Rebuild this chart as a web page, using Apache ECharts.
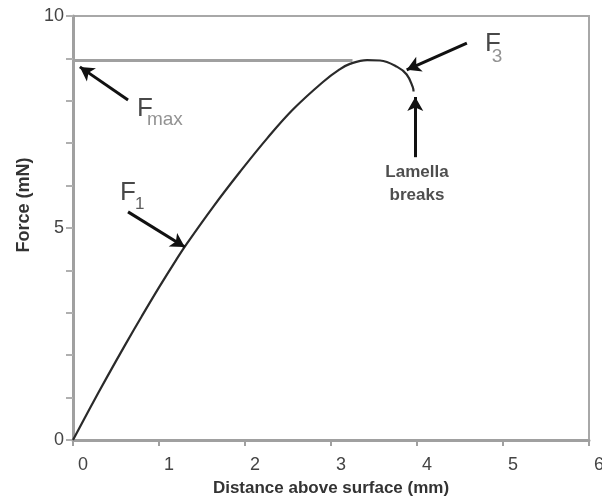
<!DOCTYPE html>
<html>
<head>
<meta charset="utf-8">
<script src="https://cdn.jsdelivr.net/npm/echarts@6/dist/echarts.min.js"></script>
<style>
  html, body { margin: 0; padding: 0; background: #fff; }
  #chart { width: 602px; height: 498px; }
</style>
</head>
<body>
<div id="chart"></div>
<script>
// ---- data ----
var distance = [0, 0.2, 0.4, 0.6, 0.8, 1.0, 1.2, 1.32, 1.63, 1.94, 2.26, 2.56, 2.91, 3.10, 3.22, 3.42, 3.57, 3.77, 3.88, 3.95, 3.96];
var force    = [0, 0.76, 1.50, 2.22, 2.92, 3.60, 4.25, 4.62, 5.50, 6.32, 7.12, 7.80, 8.45, 8.74, 8.87, 8.96, 8.95, 8.80, 8.62, 8.33, 8.22];
var xTicks = [0, 1, 2, 3, 4, 5, 6];
var yTickLabels = [0, 5, 10];
var fmaxValue = 8.95;
var fmaxLineEnd = 3.25;
var xTitle = 'Distance above surface (mm)';
var yTitle = 'Force (mN)';

// arrows: [fromX, fromY, toX, toY] in data units
var arrowFmax = [0.64, 8.02, 0.08, 8.80];
var arrowF1 = [0.64, 5.38, 1.30, 4.55];
var arrowF3 = [4.58, 9.36, 3.88, 8.73];
var arrowBreak = [3.98, 6.67, 3.98, 8.09];

// text annotations: [x, y, text, style]
var labelTexts = [
  [0.547, 5.84, 'F', 'big'],
  [0.72, 5.57, '1', 'sub'],
  [0.744, 7.81, 'F', 'big'],
  [0.86, 7.55, 'max', 'subGray'],
  [4.79, 9.35, 'F', 'big'],
  [4.87, 9.03, '3', 'subGray'],
  [4.0, 6.32, 'Lamella', 'bold'],
  [4.0, 5.78, 'breaks', 'bold']
];

var curve = distance.map(function (d, i) { return [d, force[i]]; });

var styles = {
  big: { fontSize: 26, color: '#1a1a1a', fontWeight: 'normal', align: 'left' },
  sub: { fontSize: 17, color: '#333', fontWeight: 'normal', align: 'left' },
  subGray: { fontSize: 19, color: '#777', fontWeight: 'normal', align: 'left' },
  bold: { fontSize: 17, color: '#222', fontWeight: 'bold', align: 'center' }
};

var annData = labelTexts.map(function (t) {
  var s = styles[t[3]];
  return {
    value: [t[0], t[1]],
    label: {
      show: true, position: 'inside', formatter: t[2],
      fontSize: s.fontSize, color: s.color, fontWeight: s.fontWeight,
      align: s.align, verticalAlign: 'middle',
      fontFamily: 'Liberation Sans'
    }
  };
});

function arrowLine(a) {
  return [{ coord: [a[0], a[1]] }, { coord: [a[2], a[3]] }];
}

var chart = echarts.init(document.getElementById('chart'), null, { renderer: 'canvas' });
chart.setOption({
  animation: false,
  backgroundColor: '#fff',
  textStyle: { fontFamily: 'Liberation Sans' },
  grid: {
    left: 73, right: 13, top: 16, bottom: 58,
    outerBoundsMode: 'none', containLabel: false,
    show: true, borderColor: '#a8a8a8', borderWidth: 2, backgroundColor: 'transparent'
  },
  xAxis: {
    type: 'value', min: xTicks[0], max: xTicks[xTicks.length - 1], interval: 1,
    name: xTitle, nameLocation: 'middle', nameGap: 40,
    nameTextStyle: { fontSize: 17, fontWeight: 'bold', color: '#333', fontFamily: 'Liberation Sans' },
    axisLine: { show: true, lineStyle: { color: '#a0a0a0', width: 3 } },
    axisTick: { show: true, inside: false, length: 6, lineStyle: { color: '#a0a0a0', width: 2 } },
    axisLabel: { fontSize: 18, color: '#444', margin: 16, padding: [0, 0, 0, 20] },
    splitLine: { show: false }
  },
  yAxis: {
    type: 'value', min: 0, max: 10, interval: 1,
    name: yTitle, nameLocation: 'middle', nameGap: 28, nameRotate: 90,
    nameTextStyle: { fontSize: 18, fontWeight: 'bold', color: '#333', fontFamily: 'Liberation Sans', padding: [0, 0, 0, 46] },
    axisLine: { show: true, lineStyle: { color: '#a0a0a0', width: 3 } },
    axisTick: { show: true, inside: false, length: 7, lineStyle: { color: '#b0b0b0', width: 2 } },
    axisLabel: {
      fontSize: 18, color: '#444', margin: 9,
      formatter: function (v) { return yTickLabels.indexOf(v) >= 0 ? String(v) : ''; }
    },
    splitLine: { show: false }
  },
  series: [
    {
      type: 'line', data: curve, smooth: 0.4, symbol: 'none',
      lineStyle: { color: '#2a2a2a', width: 2.2 },
      markLine: {
        silent: true, symbol: ['none', 'none'],
        lineStyle: { color: '#a0a0a0', width: 3, type: 'solid' },
        label: { show: false },
        data: [[{ coord: [0, fmaxValue] }, { coord: [fmaxLineEnd, fmaxValue] }]]
      },
      z: 3
    },
    {
      type: 'line', data: [], symbol: 'none',
      markLine: {
        silent: true, symbol: ['none', 'arrow'], symbolSize: [12, 14],
        lineStyle: { color: '#111', width: 3, type: 'solid' },
        label: { show: false },
        data: [arrowLine(arrowFmax), arrowLine(arrowF1), arrowLine(arrowF3), arrowLine(arrowBreak)]
      },
      z: 4
    },
    {
      type: 'scatter', data: annData, symbolSize: 1,
      itemStyle: { color: 'rgba(0,0,0,0)' }, silent: true, z: 5
    }
  ]
});
</script>
</body>
</html>
